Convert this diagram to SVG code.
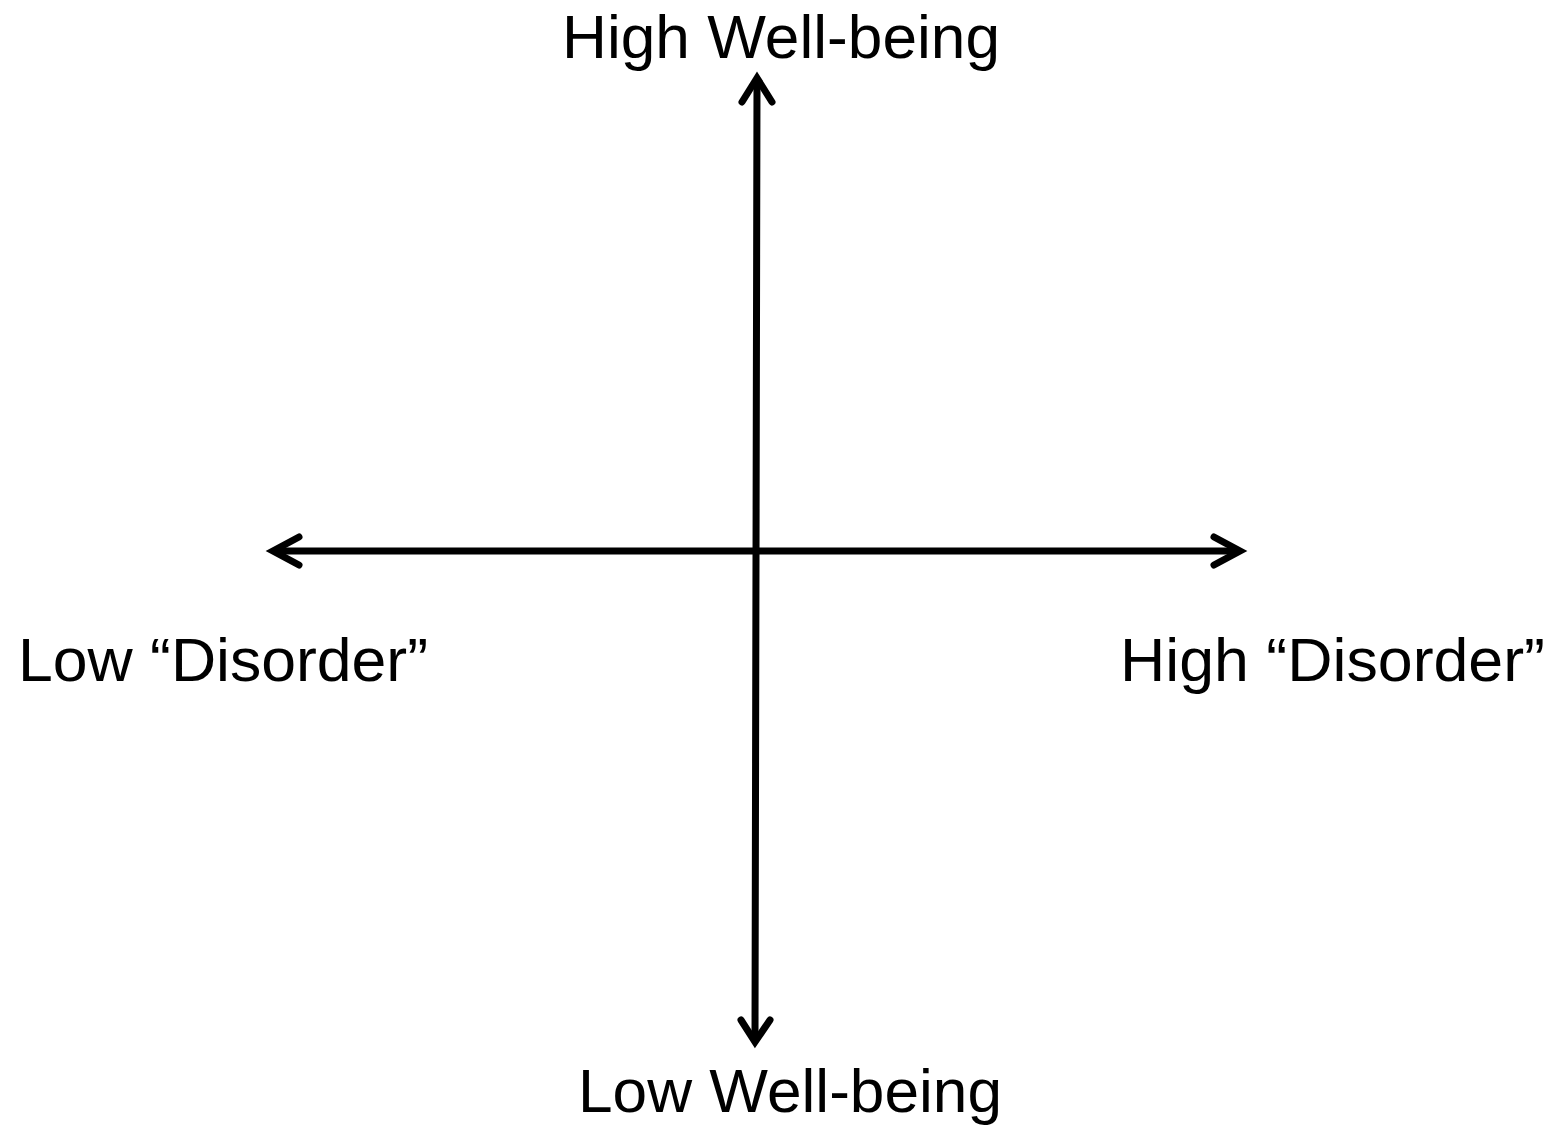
<svg xmlns="http://www.w3.org/2000/svg" width="1564" height="1127" viewBox="0 0 1564 1127">
<style>
.lbl{font-family:"Liberation Sans",Arial,sans-serif;font-size:62px;fill:#000}
.ax{stroke:#000;stroke-width:7;fill:none;stroke-linecap:round;stroke-linejoin:miter}
</style>
<rect width="1564" height="1127" fill="#fff"/>
<g id="connectors">
<line class="ax" x1="757" y1="82" x2="755" y2="1038"/>
<line class="ax" x1="276" y1="551" x2="1237" y2="551"/>
<polyline class="ax" points="742,102 757,78 772,102"/>
<polyline class="ax" points="741,1020 755,1042 770,1020"/>
<polyline class="ax" points="299,537 273,551 299,565"/>
<polyline class="ax" points="1214,537 1240,551 1214,565"/>
</g>
<g id="high-wellbeing"><text class="lbl" x="562" y="58" textLength="438" lengthAdjust="spacingAndGlyphs">High Well-being</text></g>
<g id="low-wellbeing"><text class="lbl" x="578" y="1112" textLength="424" lengthAdjust="spacingAndGlyphs">Low Well-being</text></g>
<g id="low-disorder"><text class="lbl" x="18" y="681" textLength="410" lengthAdjust="spacingAndGlyphs">Low “Disorder”</text></g>
<g id="high-disorder"><text class="lbl" x="1120" y="681" textLength="425" lengthAdjust="spacingAndGlyphs">High “Disorder”</text></g>
</svg>
